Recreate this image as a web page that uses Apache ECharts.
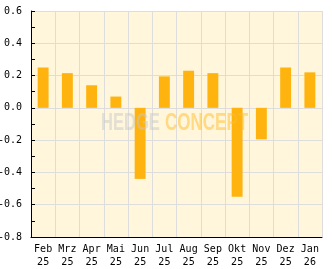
<!DOCTYPE html>
<html><head><meta charset="utf-8">
<script src="https://cdn.jsdelivr.net/npm/echarts@6/dist/echarts.min.js"></script>
<style>html,body{margin:0;padding:0;background:#fff}#c{width:332px;height:269px}</style>
</head><body><div id="c"></div>
<script>
var months = ['Feb', 'Mrz', 'Apr', 'Mai', 'Jun', 'Jul', 'Aug', 'Sep', 'Okt', 'Nov', 'Dez', 'Jan'];
var years = ['25', '25', '25', '25', '25', '25', '25', '25', '25', '25', '25', '26'];
var values = [0.25, 0.215, 0.14, 0.07, -0.44, 0.195, 0.23, 0.215, -0.55, -0.195, 0.25, 0.22];
var yTicks = { min: -0.8, max: 0.6, step: 0.2 };

var categories = months.map(function (m, i) { return m + '\n' + years[i]; });
var chart = echarts.init(document.getElementById('c'), null, { renderer: 'canvas' });
var font = 'DejaVu Sans Mono';
chart.setOption({
  animation: false,
  grid: { left: 31, right: 10, top: 11, bottom: 32, show: true, backgroundColor: '#fff6dc', borderWidth: 0,
    containLabel: false, outerBoundsMode: 'none' },
  xAxis: {
    type: 'category', data: categories,
    axisLine: { onZero: false, lineStyle: { color: '#000', width: 1 } },
    axisTick: { inside: true, length: 4, lineStyle: { color: '#000' } },
    axisLabel: { color: '#000', fontFamily: font, fontSize: 10, lineHeight: 13, margin: 6 },
    splitLine: { show: true, lineStyle: { color: '#dddddd', width: 1 } }
  },
  yAxis: {
    type: 'value', min: yTicks.min, max: yTicks.max, interval: yTicks.step,
    axisLine: { show: true, lineStyle: { color: '#000', width: 1 } },
    axisTick: { show: true, inside: true, length: 4, lineStyle: { color: '#000' } },
    minorTick: { show: true, splitNumber: 2, length: 4, lineStyle: { color: '#000' } },
    axisLabel: { color: '#000', fontFamily: font, fontSize: 10, margin: 9,
      formatter: function (v) { return v.toFixed(1); } },
    splitLine: { show: true, lineStyle: { color: '#dddddd', width: 1 } }
  },
  series: [{
    type: 'bar', data: values, barWidth: '45%',
    itemStyle: { color: '#ffb30f' }, z: 1
  }],
  graphic: [{
    type: 'text', x: 101, y: 124, scaleX: 0.72, z: 100,
    style: { text: 'HEDGE', fontFamily: 'Liberation Sans', fontWeight: 'bold', fontSize: 23,
      verticalAlign: 'middle', align: 'left', fill: 'rgba(200,200,200,0.5)' }
  }, {
    type: 'text', x: 165, y: 124, scaleX: 0.74, z: 100,
    style: { text: 'CONCEPT', fontFamily: 'Liberation Sans', fontWeight: 'bold', fontSize: 23,
      verticalAlign: 'middle', align: 'left', fill: 'rgba(255,190,40,0.5)' }
  }]
});
</script>
</body></html>
